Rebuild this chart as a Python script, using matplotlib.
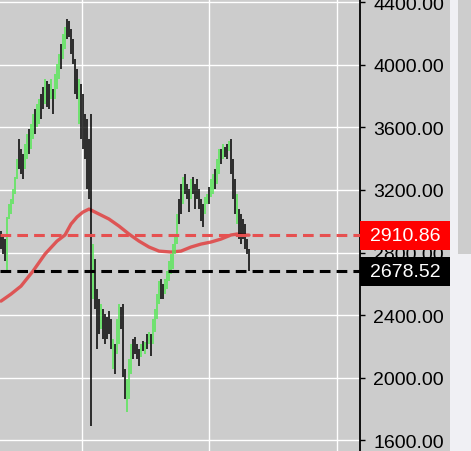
import numpy as np
import matplotlib
matplotlib.use('Agg')
import matplotlib.pyplot as plt
from matplotlib.patches import Rectangle
from matplotlib.transforms import blended_transform_factory

plt.rcParams['font.family'] = ['Liberation Sans', 'DejaVu Sans']

# daily bars: high / low / up(1) or down(0)
highs = [2937, 2918, 2886, 3027, 3110, 3142, 3206, 3283, 3398, 3526,
         3462, 3430, 3494, 3558, 3590, 3622, 3686, 3718, 3750, 3782,
         3814, 3859, 3910, 3897, 3878, 3910, 3846, 3942, 4006, 4070,
         4134, 4198, 4243, 4294, 4281, 4230, 4166, 4038, 3974, 3910,
         3878, 3814, 3686, 3654, 3526, 3686, 2854, 2758, 2566, 2502,
         2470, 2438, 2406, 2387, 2425, 2374, 2246, 2214, 2374, 2470,
         2451, 2470, 2054, 1990, 2118, 2214, 2246, 2259, 2214, 2182,
         2214, 2233, 2227, 2278, 2291, 2278, 2374, 2438, 2534, 2617,
         2630, 2598, 2630, 2681, 2745, 2790, 2854, 2918, 3046, 3142,
         3238, 3283, 3302, 3238, 3206, 3270, 3283, 3238, 3270, 3206,
         3142, 3110, 3155, 3174, 3219, 3270, 3302, 3334, 3398, 3462,
         3462, 3494, 3475, 3494, 3513, 3526, 3398, 3270, 3174, 3078,
         3046, 3014, 2982, 2886, 2822]
lows = [2822, 2790, 2745, 2680, 3014, 3046, 3110, 3174, 3270, 3334,
        3302, 3270, 3334, 3398, 3430, 3462, 3526, 3558, 3603, 3622,
        3654, 3718, 3750, 3731, 3718, 3782, 3686, 3782, 3846, 3910,
        3974, 4038, 4102, 4166, 4179, 4070, 4006, 3814, 3782, 3622,
        3526, 3462, 3398, 3206, 3142, 1689, 2502, 2438, 2182, 2278,
        2310, 2246, 2214, 2246, 2278, 2182, 2054, 2022, 2150, 2214,
        2310, 2003, 1862, 1779, 1862, 2022, 2118, 2150, 2118, 2073,
        2131, 2169, 2150, 2182, 2214, 2137, 2214, 2291, 2374, 2470,
        2502, 2502, 2534, 2566, 2617, 2662, 2694, 2790, 2854, 2982,
        3046, 3110, 3174, 3142, 3059, 3142, 3174, 3078, 3142, 3078,
        3001, 2963, 3046, 3110, 3110, 3155, 3174, 3206, 3238, 3302,
        3366, 3398, 3411, 3398, 3449, 3302, 3142, 3046, 2982, 2886,
        2854, 2886, 2822, 2790, 2678.52]
up = [0, 0, 0, 1, 1, 1, 1, 1, 1, 0,
      0, 0, 1, 1, 0, 1, 1, 0, 1, 1,
      0, 0, 1, 0, 0, 1, 0, 1, 1, 1,
      0, 1, 1, 0, 0, 0, 0, 0, 0, 1,
      0, 0, 0, 0, 0, 0, 1, 0, 0, 0,
      1, 0, 0, 0, 0, 0, 1, 0, 1, 1,
      0, 0, 0, 1, 1, 1, 0, 0, 0, 0,
      1, 0, 1, 0, 1, 0, 1, 1, 1, 1,
      0, 0, 1, 1, 1, 1, 1, 1, 1, 0,
      0, 1, 0, 0, 0, 1, 0, 0, 0, 0,
      0, 0, 1, 1, 0, 1, 1, 0, 1, 1,
      0, 1, 0, 0, 1, 0, 0, 0, 1, 0,
      0, 0, 0, 0, 0]

# moving average, read at a few bars
ma_idx = [0, 5, 10, 16, 22, 28, 32, 35, 38, 41, 44, 49, 54, 59, 64, 69,
          74, 79, 85, 90, 95, 100, 105, 110, 115, 118, 121, 124]
ma_val = [2489, 2534, 2585, 2681, 2790, 2873, 2912, 2982, 3027, 3059, 3078,
          3046, 3014, 2969, 2918, 2873, 2835, 2809, 2803, 2809, 2835, 2854,
          2867, 2886, 2912, 2918, 2912, 2911]

ma_last = 2910.86
last_close = 2678.52
yticks = [1600, 2000, 2400, 2800, 3200, 3600, 4000, 4400]

fig = plt.figure(figsize=(4.71, 4.52), dpi=100, facecolor='#cccccc')
ax = fig.add_axes([0, 0, 360 / 471, 1])
ax.set_facecolor('#cccccc')
ax.set_axisbelow(True)

x = np.arange(len(highs))
ax.plot(ma_idx, ma_val, color='#e04848', lw=2.4, alpha=0.9, zorder=2,
        solid_capstyle='round', solid_joinstyle='round')

cols = ['#55e855' if u else 'black' for u in up]
ax.vlines(x, lows, highs, colors=cols, lw=1.1, zorder=3)

ax.axhline(ma_last, color='#e65050', lw=2.2, ls=(0, (3.5, 2)), zorder=4)
ax.axhline(last_close, color='black', lw=2.2, ls=(0, (3.5, 2)), zorder=4)

ax.set_xlim(-0.5, 179.5)
ax.set_ylim(1530, 4422)
ax.set_xticks([40.5, 104, 168])
ax.set_yticks(yticks)
ax.set_yticklabels(['%.2f' % v for v in yticks])
ax.grid(True, color='white', lw=1.0)
ax.tick_params(axis='x', length=0, labelbottom=False)
ax.yaxis.tick_right()
ax.tick_params(axis='y', direction='out', length=3.5, width=1, color='black',
               pad=6, labelsize=14, labelcolor='black')
for s in ['left', 'top', 'bottom']:
    ax.spines[s].set_visible(False)
ax.spines['right'].set_linewidth(1.3)

# value boxes on the price scale
tr = blended_transform_factory(ax.transAxes, ax.transData)
bw = 90 / 360
bh = 29 * (4422 - 1530) / 452
for val, fc in [(ma_last, '#ff0000'), (last_close, 'black')]:
    ax.add_patch(Rectangle((1.0, val - bh / 2), bw, bh, transform=tr,
                           facecolor=fc, edgecolor='none', clip_on=False, zorder=5))
    ax.text(1.0 + bw / 2, val, '%.2f' % val, transform=tr, color='white',
            fontsize=14, ha='center', va='center', zorder=6, clip_on=False)

# scrollbar on the right edge
fig.add_artist(Rectangle((450 / 471, 0), 21 / 471, 1, transform=fig.transFigure,
                         facecolor='#f0f0f4', edgecolor='none'))
fig.add_artist(Rectangle((458 / 471, 1 - 255 / 452), 13 / 471, 255 / 452,
                         transform=fig.transFigure, facecolor='#cdcdcd',
                         edgecolor='none'))

fig.savefig('out.png', dpi=100, facecolor=fig.get_facecolor())
